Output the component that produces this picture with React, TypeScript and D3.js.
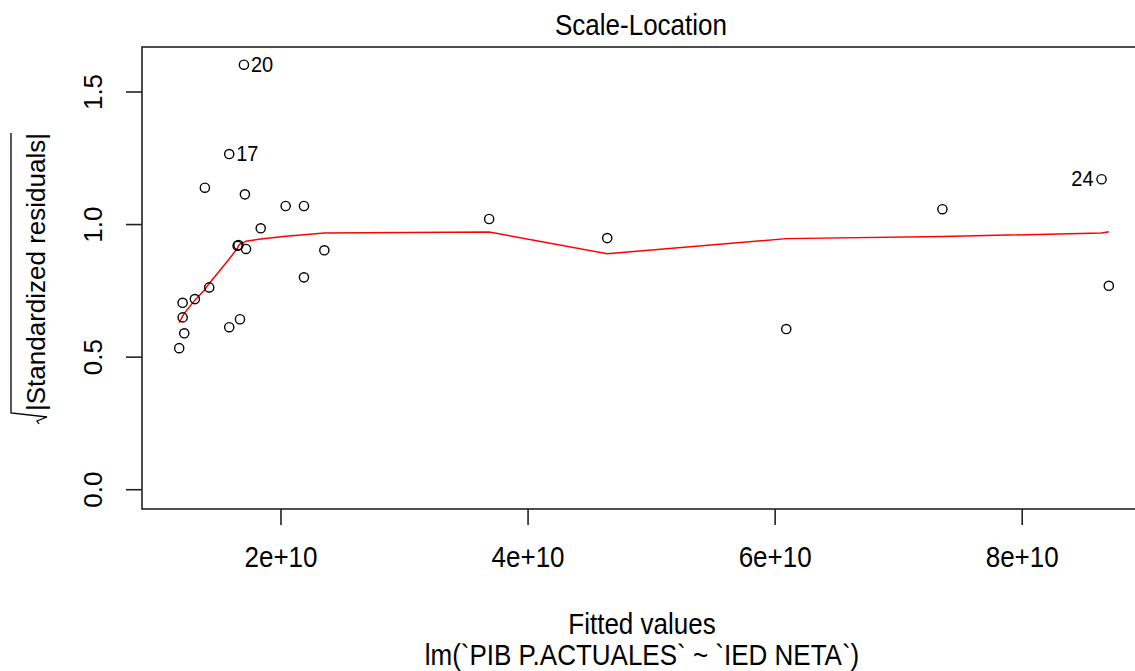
import React from "react";
import * as d3 from "d3";

// ---- data ----
const fitted = [
  1.700e10, 1.581e10, 1.384e10, 1.708e10, 2.038e10, 2.186e10, 1.836e10, 1.649e10,
  1.656e10, 1.717e10, 2.351e10, 2.186e10, 1.419e10, 1.303e10, 1.204e10, 1.204e10,
  1.581e10, 1.668e10, 1.217e10, 1.176e10, 3.685e10, 4.641e10, 6.090e10, 7.354e10,
  8.642e10, 8.701e10,
];
const sqrtAbsStdRes = [
  1.603, 1.266, 1.139, 1.114, 1.070, 1.070, 0.986, 0.920,
  0.923, 0.908, 0.903, 0.801, 0.763, 0.719, 0.705, 0.650,
  0.613, 0.643, 0.590, 0.534, 1.021, 0.949, 0.606, 1.058,
  1.171, 0.769,
];
const idIndex = [0, 1, 24];
const idLabels = ["20", "17", "24"];

const smoothX = [
  1.176e10, 1.204e10, 1.217e10, 1.303e10, 1.384e10, 1.419e10, 1.581e10, 1.649e10,
  1.656e10, 1.668e10, 1.700e10, 1.708e10, 1.717e10, 1.836e10, 2.038e10, 2.186e10,
  2.351e10, 3.685e10, 4.641e10, 6.090e10, 7.354e10, 8.642e10, 8.701e10,
];
const smoothY = [
  0.630, 0.655, 0.665, 0.715, 0.755, 0.778, 0.870, 0.912,
  0.920, 0.926, 0.933, 0.935, 0.937, 0.946, 0.956, 0.962,
  0.968, 0.972, 0.890, 0.947, 0.955, 0.968, 0.973,
];

const xTicks = [2e10, 4e10, 6e10, 8e10];
const xTickLabels = ["2e+10", "4e+10", "6e+10", "8e+10"];
const yTicks = [0, 0.5, 1.0, 1.5];
const yTickLabels = ["0.0", "0.5", "1.0", "1.5"];
const yLim = [-0.0727, 1.6697];

const title = "Scale-Location";
const xLabel = "Fitted values";
const subCaption = "lm(`PIB P.ACTUALES` ~ `IED NETA`)";
const yLabelText = "|Standardized residuals|";

// ---- layout ----
const W = 1135;
const H = 671;
const plot = { left: 142, right: 1146, top: 47, bottom: 509 };
const FONT = "'Liberation Sans', Arial, sans-serif";
const FS = 26;
const VS = 1.1; // vertical stretch of glyphs in the reference

function HText({ x, y, children, size = FS, anchor = "middle" }: any) {
  return (
    <text
      transform={`translate(${x},${y}) scale(1,${VS})`}
      fontFamily={FONT}
      fontSize={size}
      textAnchor={anchor}
      fill="#000"
    >
      {children}
    </text>
  );
}

export default function App() {
  const [xmin, xmax] = d3.extent(fitted) as [number, number];
  const span = xmax - xmin;
  const x = d3
    .scaleLinear()
    .domain([xmin - 0.04 * span, xmax + 0.04 * span])
    .range([plot.left, plot.right]);
  const y = d3.scaleLinear().domain(yLim).range([plot.bottom, plot.top]);

  const line = d3
    .line<number>()
    .x((_, i) => x(smoothX[i]))
    .y((d) => y(d));

  const midX = (x.domain()[0] + x.domain()[1]) / 2;
  const plotMidY = (plot.top + plot.bottom) / 2;
  const plotMidX = (plot.left + plot.right) / 2;

  // y label (rotated) geometry
  const ylBase = 45;
  const textLen = 278;
  const u0 = -textLen / 2 + 6;

  return (
    <svg
      width={W}
      height={H}
      style={{ position: "absolute", left: 0, top: 0, background: "#fff" }}
    >
      <rect x={0} y={0} width={W} height={H} fill="#fff" />
      {/* title */}
      <HText x={641} y={35}>{title}</HText>

      {/* smoother */}
      <path d={line(smoothY) || ""} fill="none" stroke="#ff0000" strokeWidth={1.5} />

      {/* points */}
      {fitted.map((f, i) => (
        <circle
          key={i}
          cx={x(f)}
          cy={y(sqrtAbsStdRes[i])}
          r={4.6}
          fill="none"
          stroke="#000"
          strokeWidth={1.4}
        />
      ))}

      {/* id labels */}
      {idIndex.map((idx, k) => {
        const px = x(fitted[idx]);
        const py = y(sqrtAbsStdRes[idx]);
        const right = fitted[idx] < midX;
        return (
          <HText
            key={k}
            x={right ? px + 7 : px - 8}
            y={py + 7}
            size={20}
            anchor={right ? "start" : "end"}
          >
            {idLabels[k]}
          </HText>
        );
      })}

      {/* box */}
      <rect
        x={plot.left}
        y={plot.top}
        width={plot.right - plot.left}
        height={plot.bottom - plot.top}
        fill="none"
        stroke="#222"
        strokeWidth={1.6}
      />

      {/* x axis */}
      {xTicks.map((t, i) => (
        <g key={i}>
          <line x1={x(t)} x2={x(t)} y1={plot.bottom} y2={plot.bottom + 16} stroke="#222" strokeWidth={1.6} />
          <HText x={x(t)} y={567}>{xTickLabels[i]}</HText>
        </g>
      ))}

      {/* y axis */}
      {yTicks.map((t, i) => (
        <g key={i}>
          <line x1={plot.left} x2={plot.left - 16} y1={y(t)} y2={y(t)} stroke="#222" strokeWidth={1.6} />
          <text
            transform={`translate(102,${y(t)}) rotate(-90)`}
            fontFamily={FONT}
            fontSize={FS}
            textAnchor="middle"
            fill="#000"
          >
            {yTickLabels[i]}
          </text>
        </g>
      ))}

      {/* axis labels */}
      <HText x={plotMidX - 2} y={634}>{xLabel}</HText>
      <HText x={plotMidX - 2} y={665}>{subCaption}</HText>

      {/* y label with radical */}
      <g transform={`translate(${ylBase},${plotMidY}) rotate(-90)`}>
        <text x={u0} y={0} fontFamily={FONT} fontSize={FS} fill="#000" textAnchor="start">
          {yLabelText}
        </text>
        <path
          d={`M${u0 + textLen} ${-34} L${u0 - 2} ${-34} L${u0 - 6} ${2} L${u0 - 10} ${-8} L${u0 - 13} ${-6}`}
          fill="none"
          stroke="#000"
          strokeWidth={1.3}
        />
      </g>
    </svg>
  );
}
